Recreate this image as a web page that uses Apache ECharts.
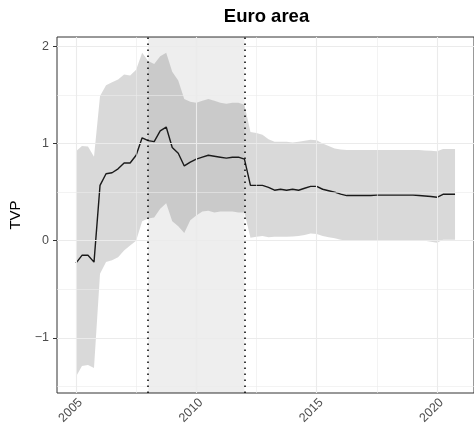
<!DOCTYPE html>
<html>
<head>
<meta charset="utf-8">
<script src="https://cdn.jsdelivr.net/npm/echarts@6/dist/echarts.min.js"></script>
<style>
  html, body { margin: 0; padding: 0; background: #ffffff; }
  #chart { width: 474px; height: 436px; }
</style>
</head>
<body>
<div id="chart"></div>
<script>
// Quarterly observation dates, 2005Q1 .. 2020Q4
const quarters = [
  2005.00, 2005.25, 2005.50, 2005.75, 2006.00, 2006.25, 2006.50, 2006.75,
  2007.00, 2007.25, 2007.50, 2007.75, 2008.00, 2008.25, 2008.50, 2008.75,
  2009.00, 2009.25, 2009.50, 2009.75, 2010.00, 2010.25, 2010.50, 2010.75,
  2011.00, 2011.25, 2011.50, 2011.75, 2012.00, 2012.25, 2012.50, 2012.75,
  2013.00, 2013.25, 2013.50, 2013.75, 2014.00, 2014.25, 2014.50, 2014.75,
  2015.00, 2015.25, 2015.50, 2015.75, 2016.00, 2016.25, 2016.50, 2016.75,
  2017.00, 2017.25, 2017.50, 2017.75, 2018.00, 2018.25, 2018.50, 2018.75,
  2019.00, 2019.25, 2019.50, 2019.75, 2020.00, 2020.25, 2020.50, 2020.75
];

// Time-varying parameter: posterior median
const tvp = [
  -0.23, -0.15, -0.15, -0.22, 0.57, 0.69, 0.70, 0.74,
  0.80, 0.80, 0.88, 1.06, 1.03, 1.02, 1.13, 1.17,
  0.96, 0.90, 0.77, 0.81, 0.84, 0.86, 0.88, 0.87,
  0.86, 0.85, 0.86, 0.86, 0.84, 0.57, 0.57, 0.57,
  0.55, 0.52, 0.53, 0.52, 0.53, 0.52, 0.54, 0.56,
  0.56, 0.53, 0.515, 0.50, 0.48, 0.465, 0.465, 0.465,
  0.465, 0.465, 0.47, 0.47, 0.47, 0.47, 0.47, 0.47,
  0.47, 0.465, 0.46, 0.455, 0.447, 0.478, 0.478, 0.478
];

// Credible band: upper bound
const upper = [
  0.92, 0.975, 0.97, 0.865, 1.49, 1.60, 1.63, 1.66,
  1.71, 1.70, 1.76, 1.935, 1.85, 1.82, 1.90, 1.935,
  1.74, 1.65, 1.46, 1.43, 1.42, 1.44, 1.46, 1.44,
  1.42, 1.41, 1.42, 1.42, 1.40, 1.12, 1.11, 1.09,
  1.045, 1.02, 1.02, 1.02, 1.01, 1.02, 1.03, 1.04,
  1.035, 1.00, 0.975, 0.95, 0.94, 0.935, 0.935, 0.935,
  0.935, 0.935, 0.935, 0.935, 0.935, 0.935, 0.935, 0.935,
  0.935, 0.935, 0.93, 0.925, 0.92, 0.945, 0.945, 0.945
];

// Credible band: lower bound
const lower = [
  -1.40, -1.29, -1.28, -1.31, -0.34, -0.22, -0.20, -0.17,
  -0.10, -0.05, 0.00, 0.20, 0.23, 0.24, 0.33, 0.385,
  0.20, 0.15, 0.08, 0.21, 0.26, 0.30, 0.31, 0.29,
  0.30, 0.30, 0.30, 0.29, 0.29, 0.03, 0.04, 0.05,
  0.035, 0.04, 0.04, 0.04, 0.045, 0.05, 0.06, 0.075,
  0.07, 0.05, 0.035, 0.025, 0.01, 0.00, 0.00, 0.00,
  0.00, 0.00, 0.00, 0.00, 0.00, 0.00, 0.00, 0.00,
  0.00, 0.00, 0.00, -0.01, -0.02, 0.01, 0.01, 0.01
];

// Axis breaks
const xTicks = [2005, 2010, 2015, 2020];
const xMinor = [2007.5, 2012.5, 2017.5];
const yTicks = [-1, 0, 1, 2];
const yMinor = [-1.5, -0.5, 0.5, 1.5];

// Shaded crisis window
const crisis = [2008, 2012];

const FONT = 'Liberation Sans, Arial, Helvetica, sans-serif';

const pairs = (ys) => ys.map((y, i) => [quarters[i], y]);

const gridLines = []
  .concat(xMinor.map(v => ({ xAxis: v, lineStyle: { color: '#ebebeb', width: 0.6, type: 'solid' } })))
  .concat(yMinor.map(v => ({ yAxis: v, lineStyle: { color: '#ebebeb', width: 0.6, type: 'solid' } })))
  .concat(xTicks.map(v => ({ xAxis: v, lineStyle: { color: '#ebebeb', width: 1.1, type: 'solid' } })))
  .concat(yTicks.map(v => ({ yAxis: v, lineStyle: { color: '#ebebeb', width: 1.1, type: 'solid' } })));

// Ribbon between the lower and upper bounds, drawn as one polygon
function renderRibbon(params, api) {
  const pts = [];
  for (let i = 0; i < quarters.length; i++) pts.push(api.coord([quarters[i], upper[i]]));
  for (let i = quarters.length - 1; i >= 0; i--) pts.push(api.coord([quarters[i], lower[i]]));
  return {
    type: 'polygon',
    shape: { points: pts },
    style: { fill: 'rgba(0,0,0,0.15)', stroke: 'none' },
    silent: true
  };
}

const chart = echarts.init(document.getElementById('chart'), null, { renderer: 'canvas' });

chart.setOption({
  animation: false,
  backgroundColor: '#ffffff',
  textStyle: { fontFamily: FONT },
  graphic: [{
    type: 'text',
    x: 266.5,
    y: 17,
    style: {
      text: 'Euro area',
      font: 'bold 18.5px ' + FONT,
      fill: '#000000',
      textAlign: 'center',
      textVerticalAlign: 'middle'
    }
  }],
  grid: {
    left: 57, top: 37, right: -3, bottom: 43,
    show: true,
    borderColor: '#333333',
    borderWidth: 1,
    backgroundColor: 'transparent',
    containLabel: false
  },
  xAxis: {
    type: 'value',
    min: 2004.2125,
    max: 2021.5375,
    axisLine: { show: false },
    axisTick: { show: true, customValues: xTicks, length: 4, lineStyle: { color: '#333333', width: 1 } },
    axisLabel: {
      customValues: xTicks,
      rotate: 45,
      margin: 3,
      align: 'right',
      verticalAlign: 'top',
      color: '#4d4d4d',
      fontSize: 12.5,
      fontFamily: FONT,
      formatter: v => String(v)
    },
    splitLine: { show: false }
  },
  yAxis: {
    type: 'value',
    min: -1.567,
    max: 2.097,
    name: 'TVP',
    nameLocation: 'middle',
    nameRotate: 90,
    nameGap: 30,
    nameTextStyle: { color: '#000000', fontSize: 15, fontFamily: FONT },
    axisLine: { show: false },
    axisTick: { show: true, customValues: yTicks, length: 4, lineStyle: { color: '#333333', width: 1 } },
    axisLabel: {
      customValues: yTicks,
      margin: 8,
      color: '#4d4d4d',
      fontSize: 12.5,
      fontFamily: FONT,
      formatter: v => (v < 0 ? '\u2212' + Math.abs(v) : String(v))
    },
    splitLine: { show: false }
  },
  series: [
    {
      // panel grid
      type: 'line',
      data: [],
      z: 0,
      silent: true,
      markLine: {
        silent: true,
        symbol: ['none', 'none'],
        label: { show: false },
        animation: false,
        data: gridLines
      }
    },
    {
      // crisis window shading and its boundaries
      type: 'line',
      data: [],
      z: 1,
      silent: true,
      markArea: {
        silent: true,
        itemStyle: { color: 'rgba(0,0,0,0.065)' },
        data: [[{ xAxis: crisis[0] }, { xAxis: crisis[1] }]]
      },
      markLine: {
        silent: true,
        symbol: ['none', 'none'],
        label: { show: false },
        lineStyle: { color: '#000000', width: 1.5, type: [1.5, 4.5] },
        data: crisis.map(v => ({ xAxis: v }))
      }
    },
    {
      name: 'band',
      type: 'custom',
      data: [0],
      renderItem: renderRibbon,
      z: 2,
      silent: true
    },
    {
      name: 'TVP',
      type: 'line',
      data: pairs(tvp),
      symbol: 'none',
      lineStyle: { color: '#1a1a1a', width: 1.4 },
      z: 3,
      silent: true
    }
  ]
});
</script>
</body>
</html>
